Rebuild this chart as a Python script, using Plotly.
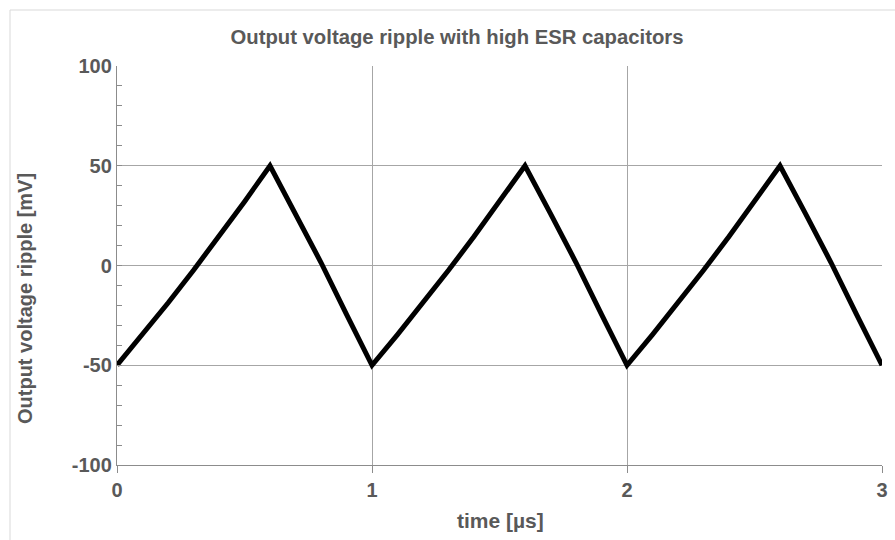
import plotly.graph_objects as go

# Data (time in µs, ripple in mV)
time_us = [0.0, 0.1, 0.2, 0.3, 0.4, 0.5, 0.6, 0.7, 0.8, 0.9,
           1.0, 1.1, 1.2, 1.3, 1.4, 1.5, 1.6, 1.7, 1.8, 1.9,
           2.0, 2.1, 2.2, 2.3, 2.4, 2.5, 2.6, 2.7, 2.8, 2.9, 3.0]
ripple_mv = [-50, -34.6, -18.8, -2.4, 14.5, 32, 50, 26, 1.5, -24.5,
             -50, -34.6, -18.8, -2.4, 14.5, 32, 50, 26, 1.5, -24.5,
             -50, -34.6, -18.8, -2.4, 14.5, 32, 50, 26, 1.5, -24.5, -50]
x_ticks = [0, 1, 2, 3]
y_ticks = [-100, -50, 0, 50, 100]

title_text = "Output voltage ripple with high ESR capacitors"
x_title = "time [µs]"
y_title = "Output voltage ripple [mV]"

FONT = "Liberation Sans, Arial, sans-serif"
TXT = "#595959"
GRID = "#a6a6a6"
AXIS = "#8c8c8c"

W, H = 895, 540
L, R, T, B = 117, 13, 66, 75
PW, PH = W - L - R, H - T - B


def px_x(px):
    return (px - L) / PW


def px_y(py):
    return 1 - (py - T) / PH


fig = go.Figure()
fig.add_trace(go.Scatter(x=time_us, y=ripple_mv, mode="lines",
                         line=dict(color="black", width=5), showlegend=False,
                         hoverinfo="x+y"))

fig.update_layout(
    width=W, height=H,
    margin=dict(l=L, r=R, t=T, b=B),
    paper_bgcolor="white", plot_bgcolor="white",
    font=dict(family=FONT, color=TXT),
    title=dict(text="<b>" + title_text + "</b>", xref="paper", x=px_x(457), xanchor="center",
               y=1 - 37 / H, yanchor="middle",
               font=dict(size=20.3, color=TXT, family=FONT)),
    xaxis=dict(range=[0, 3], tickvals=x_ticks, ticktext=["<b>%d</b>" % v for v in x_ticks],
               showgrid=True, gridcolor=GRID, gridwidth=1,
               showline=True, linecolor=AXIS, linewidth=1.3,
               ticks="outside", ticklen=7, tickcolor=AXIS, tickwidth=1,
               tickfont=dict(size=20, color=TXT, family=FONT),
               zeroline=False, automargin=False),
    yaxis=dict(range=[-100, 100], tickvals=y_ticks, ticktext=["<b>%d</b>" % v for v in y_ticks],
               showgrid=True, gridcolor=GRID, gridwidth=1,
               showline=True, linecolor=AXIS, linewidth=1.3,
               ticks="inside", ticklen=5, tickcolor=AXIS, tickwidth=1,
               minor=dict(dtick=10, ticks="inside", ticklen=5, tickcolor=AXIS, showgrid=False),
               tickfont=dict(size=20, color=TXT, family=FONT),
               zeroline=False, automargin=False),
    annotations=[
        dict(text="<b>" + x_title + "</b>", xref="paper", yref="paper",
             x=px_x(500), y=px_y(520), xanchor="center", yanchor="middle",
             showarrow=False, font=dict(size=21, color=TXT, family=FONT)),
        dict(text="<b>" + y_title + "</b>", xref="paper", yref="paper",
             x=px_x(25), y=px_y(299), xanchor="center", yanchor="middle",
             textangle=-90, showarrow=False,
             font=dict(size=20, color=TXT, family=FONT)),
    ],
    shapes=[dict(type="rect", xref="paper", yref="paper",
                 x0=px_x(10), x1=px_x(W + 20), y0=px_y(H + 20), y1=px_y(10),
                 line=dict(color="#d9d9d9", width=1), layer="below")],
)

fig.write_html("out.html", config={"displayModeBar": False},
               post_script="document.body.style.margin='0px';")
